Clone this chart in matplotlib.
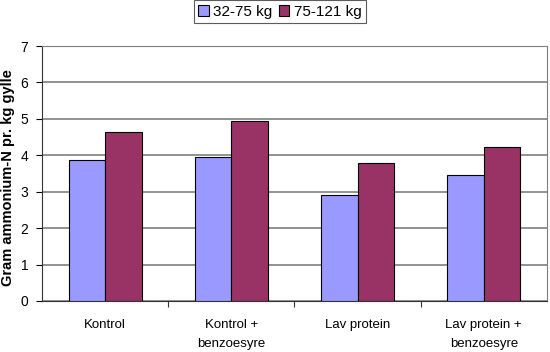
import matplotlib.pyplot as plt
import numpy as np

categories = ['Kontrol', 'Kontrol +\nbenzoesyre', 'Lav protein', 'Lav protein +\nbenzoesyre']
light = [3.86, 3.96, 2.91, 3.46]   # 32-75 kg
heavy = [4.64, 4.95, 3.79, 4.23]   # 75-121 kg
series_names = ['32-75 kg', '75-121 kg']

plt.rcParams['font.family'] = ['Liberation Sans', 'DejaVu Sans']

fig = plt.figure(figsize=(5.5, 3.52), dpi=100)
ax = fig.add_axes([0.0764, 0.1449, 0.918, 0.7244])

x = np.arange(len(categories))
w = 0.29
ax.bar(x - w / 2, light, w, color='#9999FF', edgecolor='black', linewidth=0.8, label=series_names[0], zorder=3)
ax.bar(x + w / 2, heavy, w, color='#993366', edgecolor='black', linewidth=0.8, label=series_names[1], zorder=3)

ax.set_xlim(-0.5, len(categories) - 0.5)
ax.set_ylim(0, 7)
ax.set_yticks(range(0, 8))
ax.yaxis.grid(True, color='#7f7f7f', linewidth=1.2, zorder=0)

# tick marks between categories
ax.set_xticks(np.arange(0.5, len(categories) - 0.5, 1.0))
ax.set_xticklabels([])
ax.tick_params(axis='x', length=4, width=0.8, color='#333333')
ax.set_xticks(x, minor=True)
ax.set_xticklabels(categories, minor=True, fontsize=9.5, linespacing=1.75)
ax.tick_params(axis='x', which='minor', length=0, pad=13)
for lab in ax.get_xticklabels(minor=True):
    lab.set_verticalalignment('top')

ax.tick_params(axis='y', length=4, width=0.8, labelsize=10, pad=6)

for side in ['top', 'right']:
    ax.spines[side].set_color('#7f7f7f')
for side in ['left', 'bottom']:
    ax.spines[side].set_color('#333333')

ax.set_ylabel('Gram ammonium-N pr. kg gylle', fontsize=10.5, fontweight='bold')
ax.yaxis.set_label_coords(-0.054, 0.485)

leg = fig.legend(loc='upper center', bbox_to_anchor=(0.509, 1.0), ncol=2, fontsize=11,
                 frameon=True, fancybox=False, edgecolor='#333333', handlelength=0.7,
                 handleheight=0.7, handletextpad=0.3, columnspacing=0.4, borderpad=0.3,
                 borderaxespad=0.0)
leg.get_frame().set_linewidth(0.8)

fig.savefig('out.png', dpi=100)
plt.close()
